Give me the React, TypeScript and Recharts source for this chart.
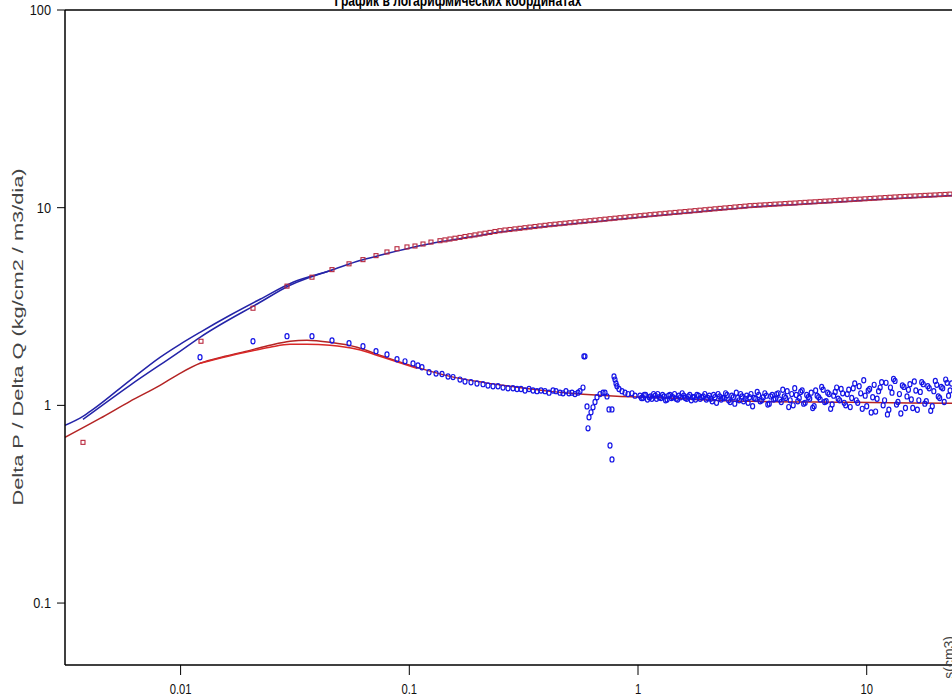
import React from "react";
import {
  ComposedChart,
  Line,
  Scatter,
  XAxis,
  YAxis,
  ReferenceLine,
} from "recharts";

// [time, value] pairs
const pressureModelA: [number, number][] = [
  [0.003123, 0.792], [0.00374, 0.88], [0.00414, 0.954], [0.006009, 1.339],
  [0.008127, 1.75], [0.00994, 2.037], [0.01216, 2.342], [0.01644, 2.856],
  [0.02225, 3.441], [0.031, 4.196], [0.04499, 4.8], [0.06087, 5.4],
  [0.07443, 5.74], [0.1007, 6.25], [0.1362, 6.72], [0.1842, 7.1],
  [0.2491, 7.53], [0.4121, 8.07], [0.6817, 8.55], [1.128, 9.057],
  [1.866, 9.545], [3.086, 10.06], [5.106, 10.42], [8.447, 10.79],
  [13.98, 11.17], [25.57, 11.57],
];

const pressureModelB: [number, number][] = [
  [0.003742, 0.849], [0.006009, 1.263], [0.00994, 1.877], [0.01216, 2.21],
  [0.02225, 3.323], [0.03009, 4.052], [0.04499, 4.8],
];

const derivModelA: [number, number][] = [
  [0.003123, 0.689], [0.004442, 0.859], [0.006009, 1.048], [0.008127, 1.263],
  [0.00994, 1.452], [0.01216, 1.632], [0.01564, 1.771], [0.02011, 1.898],
  [0.02459, 2.013], [0.03009, 2.109], [0.0357, 2.134], [0.04499, 2.084],
  [0.05906, 1.967], [0.07674, 1.771], [0.1081, 1.557], [0.1507, 1.402],
  [0.2101, 1.307], [0.2958, 1.234], [0.4124, 1.177], [0.5747, 1.137],
  [0.8093, 1.111], [1.128, 1.098], [3.088, 1.048], [8.453, 1.036],
  [25.58, 1.024],
];

const derivModelB: [number, number][] = [
  [0.01216, 1.632], [0.02011, 1.877], [0.02459, 1.967], [0.03009, 2.037],
  [0.0357, 2.037], [0.04499, 2.013], [0.05906, 1.921], [0.07674, 1.75],
  [0.1081, 1.539],
];

const pressurePointsEarly: [number, number][] = [
  [0.003743, 0.65], [0.01228, 2.11], [0.02073, 3.1], [0.02919, 4.01],
  [0.03754, 4.45], [0.04592, 4.86], [0.0545, 5.2], [0.06272, 5.46],
  [0.07153, 5.72], [0.07987, 5.97], [0.08836, 6.2], [0.0977, 6.33],
  [0.1059, 6.4], [0.1148, 6.55], [0.1244, 6.7],
];

const pressurePointsLate: [number, number][] = [
  [0.1362, 6.807], [0.1432, 6.871], [0.1506, 6.942], [0.1584, 7.007],
  [0.1666, 7.073], [0.1752, 7.148], [0.1842, 7.214], [0.1937, 7.282],
  [0.2037, 7.359], [0.2142, 7.428], [0.2253, 7.497], [0.2369, 7.577],
  [0.2491, 7.648], [0.262, 7.71], [0.2755, 7.756], [0.2897, 7.81],
  [0.3047, 7.864], [0.3204, 7.92], [0.3369, 7.976], [0.3543, 8.031],
  [0.3726, 8.088], [0.3919, 8.145], [0.4121, 8.202], [0.4334, 8.25],
  [0.4557, 8.298], [0.4793, 8.347], [0.504, 8.396], [0.53, 8.446],
  [0.5574, 8.494], [0.5862, 8.543], [0.6164, 8.594], [0.6483, 8.644],
  [0.6817, 8.694], [0.7169, 8.746], [0.754, 8.797], [0.7929, 8.848],
  [0.8338, 8.9], [0.8769, 8.952], [0.9221, 9.005], [0.9698, 9.057],
  [1.02, 9.111], [1.072, 9.163], [1.128, 9.217], [1.186, 9.266],
  [1.247, 9.315], [1.312, 9.363], [1.379, 9.412], [1.451, 9.462],
  [1.525, 9.512], [1.604, 9.561], [1.687, 9.611], [1.774, 9.662],
  [1.866, 9.712], [1.962, 9.764], [2.063, 9.815], [2.17, 9.867],
  [2.282, 9.919], [2.399, 9.971], [2.523, 10.02], [2.654, 10.08],
  [2.791, 10.13], [2.935, 10.18], [3.086, 10.24], [3.246, 10.27],
  [3.413, 10.31], [3.589, 10.34], [3.775, 10.38], [3.97, 10.42],
  [4.175, 10.45], [4.39, 10.49], [4.617, 10.53], [4.855, 10.56],
  [5.106, 10.6], [5.37, 10.64], [5.647, 10.68], [5.938, 10.71],
  [6.245, 10.75], [6.567, 10.79], [6.906, 10.82], [7.263, 10.86],
  [7.638, 10.9], [8.032, 10.94], [8.447, 10.98], [8.883, 11.02],
  [9.342, 11.05], [9.824, 11.09], [10.33, 11.13], [10.86, 11.17],
  [11.43, 11.21], [12.02, 11.25], [12.64, 11.29], [13.29, 11.33],
  [13.98, 11.37], [14.7, 11.4], [15.46, 11.44], [16.26, 11.47],
  [17.1, 11.5], [17.98, 11.54], [18.91, 11.57], [19.88, 11.6],
  [20.91, 11.64], [21.99, 11.67], [23.12, 11.71], [24.32, 11.74],
  [25.57, 11.77],
];

const derivPoints: [number, number][] = [
  [0.01216, 1.75], [0.02073, 2.11], [0.02919, 2.24], [0.03754, 2.24],
  [0.04592, 2.13], [0.0545, 2.06], [0.06272, 1.99], [0.07153, 1.88],
  [0.07987, 1.81], [0.08836, 1.71], [0.09577, 1.67], [0.1038, 1.63],
  [0.1091, 1.59], [0.1136, 1.56], [0.122, 1.47], [0.1309, 1.45],
  [0.139, 1.44], [0.1477, 1.4], [0.1553, 1.39], [0.1666, 1.35],
  [0.1752, 1.32], [0.1861, 1.31], [0.1977, 1.29], [0.2101, 1.28],
  [0.2208, 1.26], [0.2323, 1.25], [0.2443, 1.25], [0.2569, 1.23],
  [0.2701, 1.22], [0.284, 1.22], [0.2958, 1.21], [0.3079, 1.21],
  [0.3206, 1.19], [0.3338, 1.21], [0.3475, 1.19], [0.3618, 1.18],
  [0.3766, 1.19], [0.3921, 1.18], [0.4083, 1.16], [0.425, 1.19],
  [0.438, 1.18], [0.456, 1.16], [0.4699, 1.15], [0.4843, 1.18],
  [0.4991, 1.15], [0.5144, 1.16], [0.5302, 1.14], [0.5465, 1.16],
  [0.5576, 1.18], [0.5747, 1.23], [0.58, 1.77], [0.5864, 1.77],
  [0.5984, 0.988], [0.6106, 0.87], [0.6045, 0.765], [0.623, 0.922],
  [0.6357, 0.977], [0.6486, 1.04], [0.6618, 1.1], [0.6823, 1.14],
  [0.703, 1.16], [0.7173, 1.16], [0.7319, 1.11], [0.7467, 0.954],
  [0.7696, 0.954], [0.7543, 0.627], [0.7696, 0.533], [0.7853, 1.4],
  [0.7932, 1.35], [0.8013, 1.29], [0.8093, 1.25], [0.8257, 1.21],
  [0.8511, 1.18], [0.8774, 1.16], [0.9042, 1.14], [0.9414, 1.15],
  [0.9703, 1.12],
];

const noiseTimes = [
  1.02, 1.05, 1.08, 1.12, 1.15, 1.19, 1.22, 1.26, 1.3, 1.34,
  1.38, 1.42, 1.47, 1.51, 1.56, 1.61, 1.66, 1.71, 1.76, 1.81,
  1.87, 1.93, 1.99,
  2.05, 2.11, 2.17, 2.24, 2.31, 2.38, 2.45, 2.53, 2.61, 2.69,
  2.77, 2.85, 2.94, 3.03, 3.12, 3.22, 3.32, 3.42, 3.53, 3.64,
  3.75, 3.86, 3.98,
  4.1, 4.23, 4.36, 4.49, 4.63, 4.77, 4.92, 5.07, 5.22, 5.38,
  5.55, 5.72, 5.89, 6.07, 6.26, 6.45, 6.65, 6.85, 7.06, 7.28,
  7.5, 7.73, 7.97,
  8.22, 8.47, 8.73, 9.0, 9.27, 9.56, 9.85, 10.15, 10.46, 10.78,
  11.1, 11.45, 11.8, 12.15, 12.5, 12.9, 13.3, 13.7, 14.1, 14.55,
  15.0, 15.45, 15.9, 16.4, 16.9, 17.4, 17.95, 18.5, 19.05, 19.65,
  20.25, 20.85, 21.5, 22.15, 22.8, 23.5,
];

const noiseValues = [
  1.12, 1.09, 1.13, 1.1, 1.08, 1.12, 1.14, 1.09, 1.11, 1.07,
  1.13, 1.1, 1.08, 1.12, 1.15, 1.09, 1.11, 1.06, 1.1, 1.13,
  1.08, 1.11, 1.07,
  1.12, 1.05, 1.1, 1.14, 1.07, 1.09, 1.13, 1.04, 1.1, 1.16,
  1.06, 1.11, 1.08, 1.03, 1.14, 1.09, 1.17, 1.05, 1.1, 1.12,
  1.02, 1.13, 1.08,
  1.15, 1.04, 1.11, 1.18, 1.06, 1.0, 1.13, 1.09, 1.19, 1.03,
  1.1, 1.16, 0.99, 1.12, 1.07, 1.2, 1.05, 1.14, 1.01, 1.17,
  1.08, 1.21, 1.03,
  1.14, 0.98, 1.22, 1.06, 1.25, 0.96, 1.12, 1.19, 0.92, 1.27,
  1.08, 1.23, 1.0, 1.3, 0.95, 1.16, 1.33, 1.04, 0.91, 1.24,
  1.11, 1.28, 0.97, 1.19, 1.06, 1.31, 1.02, 1.25, 0.94, 1.18,
  1.27, 1.09, 1.22, 1.35, 1.12, 1.29,
];

const noiseTimes2 = [
  1.035, 1.065, 1.1, 1.135, 1.17, 1.205, 1.24, 1.28, 1.32, 1.36,
  1.4, 1.445, 1.49, 1.535, 1.585, 1.635, 1.685, 1.735, 1.785, 1.84,
  1.9, 1.96, 2.02,
  2.08, 2.14, 2.205, 2.275, 2.345, 2.415, 2.49, 2.57, 2.65, 2.73,
  2.81, 2.895, 2.985, 3.075, 3.17, 3.27, 3.37, 3.475, 3.585, 3.695,
  3.805, 3.92, 4.04,
  4.165, 4.295, 4.425, 4.56, 4.7, 4.845, 4.995, 5.145, 5.3, 5.465,
  5.635, 5.805, 5.98, 6.165, 6.355, 6.55, 6.75, 6.955, 7.17, 7.39,
  7.615, 7.85, 8.095,
  8.345, 8.6, 8.865, 9.135, 9.415, 9.705, 10.0, 10.3, 10.62, 10.94,
  11.27, 11.62, 11.97, 12.32, 12.7, 13.1, 13.5, 13.9, 14.32, 14.77,
  15.22, 15.67, 16.15, 16.65, 17.15, 17.67, 18.22, 18.77, 19.35, 19.95,
  20.55, 21.17, 21.82, 22.47, 23.15,
];

const noiseValues2 = [
  1.09, 1.13, 1.07, 1.11, 1.14, 1.08, 1.1, 1.13, 1.06, 1.12,
  1.09, 1.14, 1.07, 1.1, 1.12, 1.08, 1.13, 1.1, 1.07, 1.12,
  1.1, 1.14, 1.09,
  1.08, 1.13, 1.03, 1.11, 1.09, 1.15, 1.06, 1.12, 1.02, 1.09,
  1.14, 1.05, 1.12, 1.1, 0.99, 1.08, 1.13, 1.06, 1.15, 1.01,
  1.11, 1.07, 1.14,
  1.07, 1.2, 1.09, 0.98, 1.14, 1.22, 1.05, 1.17, 1.02, 1.13,
  1.08, 0.97, 1.19, 1.1, 1.24, 1.04, 1.16, 0.96, 1.12, 1.23,
  1.06, 1.15, 1.0,
  1.2, 1.09, 1.29, 1.03, 1.15, 1.34, 0.99, 1.21, 1.1, 0.93,
  1.18, 1.31, 1.06, 0.9, 1.23, 1.36, 1.01, 1.14, 1.26, 0.97,
  1.2, 1.07, 1.32, 0.95, 1.17, 1.28, 1.05, 1.22, 0.99, 1.33,
  1.11, 1.24, 1.04, 1.3, 1.19,
];

const xTicks = [0.01, 0.1, 1, 10];
const yTicks = [0.1, 1, 10, 100];

const toRows = (pairs: [number, number][]) => pairs.map(([x, y]) => ({ x, y }));
const noiseRows = noiseTimes.map((x, i) => ({ x, y: noiseValues[i] }));
const noiseRows2 = noiseTimes2.map((x, i) => ({ x, y: noiseValues2[i] }));

const Square = (p: any) => (
  <rect x={p.cx - 2} y={p.cy - 2} width={4} height={4} fill="none" stroke="#b8283e" strokeWidth={1.1} />
);

const Ring = (p: any) => (
  <ellipse cx={p.cx} cy={p.cy} rx={2} ry={2.6} fill="none" stroke="#1414e6" strokeWidth={1.2} />
);

const XTick = ({ x, y, payload }: any) => (
  <text
    transform={`translate(${x},${y + 17}) scale(0.75,1)`}
    textAnchor="middle"
    fontFamily="Liberation Sans, Arial, sans-serif"
    fontSize={15}
    fill="#111"
  >
    {payload.value}
  </text>
);

const YTick = ({ x, y, payload }: any) => (
  <text
    transform={`translate(${x - 4},${y + 5}) scale(0.85,1)`}
    textAnchor="end"
    fontFamily="Liberation Sans, Arial, sans-serif"
    fontSize={15}
    fill="#111"
  >
    {payload.value}
  </text>
);

export default function App() {
  return (
    <div style={{ position: "absolute", left: 0, top: 0, width: 952, height: 700, overflow: "hidden", background: "#fff" }}>
      <ComposedChart width={1000} height={700} margin={{ top: 10, right: 40, bottom: 0, left: 0 }}>
        <XAxis
          dataKey="x"
          type="number"
          scale="log"
          domain={[0.003123, 25.58]}
          allowDataOverflow
          ticks={xTicks}
          tick={<XTick />}
          tickSize={10}
          height={35}
          axisLine={{ stroke: "#000", strokeWidth: 1.5 }}
          tickLine={{ stroke: "#000" }}
        />
        <YAxis
          dataKey="y"
          type="number"
          scale="log"
          domain={[0.0486, 100]}
          allowDataOverflow
          ticks={yTicks}
          tick={<YTick />}
          tickSize={8}
          width={65}
          axisLine={{ stroke: "#000", strokeWidth: 1.5 }}
          tickLine={{ stroke: "#000" }}
        />
        <ReferenceLine y={100} stroke="#000" strokeWidth={1.5} />
        <Scatter data={toRows(pressurePointsEarly)} dataKey="y" shape={<Square />} isAnimationActive={false} />
        <Scatter data={toRows(pressurePointsLate)} dataKey="y" shape={<Square />} isAnimationActive={false} />
        <Scatter data={toRows(derivPoints)} dataKey="y" shape={<Ring />} isAnimationActive={false} />
        <Scatter data={noiseRows} dataKey="y" shape={<Ring />} isAnimationActive={false} />
        <Scatter data={noiseRows2} dataKey="y" shape={<Ring />} isAnimationActive={false} />
        <Line data={toRows(pressureModelA)} dataKey="y" type="monotone" stroke="#2424a8" strokeWidth={1.5} dot={false} isAnimationActive={false} />
        <Line data={toRows(pressureModelB)} dataKey="y" type="monotone" stroke="#2424a8" strokeWidth={1.5} dot={false} isAnimationActive={false} />
        <Line data={toRows(derivModelA)} dataKey="y" type="monotone" stroke="#b42424" strokeWidth={1.5} dot={false} isAnimationActive={false} />
        <Line data={toRows(derivModelB)} dataKey="y" type="monotone" stroke="#d82828" strokeWidth={1.5} dot={false} isAnimationActive={false} />
      </ComposedChart>
      <svg width={952} height={700} style={{ position: "absolute", left: 0, top: 0, pointerEvents: "none" }}>
        <text
          x={458}
          y={6}
          textAnchor="middle"
          fontFamily="Liberation Sans, Arial, sans-serif"
          fontWeight="bold"
          fontSize={17}
          textLength={247}
          lengthAdjust="spacingAndGlyphs"
          fill="#000"
        >
          График в логарифмических координатах
        </text>
        <text
          transform="translate(23,337) rotate(-90)"
          textAnchor="middle"
          fontFamily="Liberation Sans, Arial, sans-serif"
          fontSize={14}
          textLength={337}
          lengthAdjust="spacingAndGlyphs"
          fill="#444"
        >
          Delta P / Delta Q (kg/cm2 / m3/dia)
        </text>
        <text
          transform="translate(954,636) rotate(-90)"
          textAnchor="end"
          fontFamily="Liberation Sans, Arial, sans-serif"
          fontSize={14}
          fill="#444"
        >
          s(cm3)
        </text>
      </svg>
    </div>
  );
}
